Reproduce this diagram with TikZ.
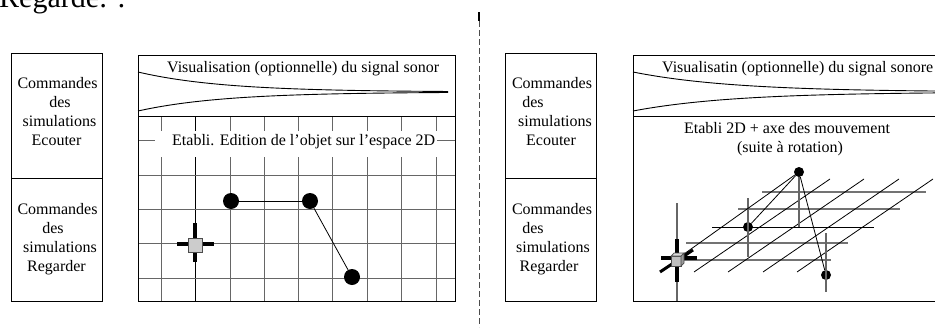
\documentclass[tikz,border=0pt]{standalone}
\usepackage{fontspec}
\setmainfont{Liberation Serif}
\begin{document}
\begin{tikzpicture}[x=1pt,y=-1pt,
  txt/.style={anchor=base, inner sep=0pt, font=\fontsize{16}{19}\selectfont},
  frame/.style={draw=black, line width=1pt},
  gridline/.style={draw=black!60, line width=1pt},
  gridblack/.style={draw=black, line width=0.9pt},
  hgray/.style={draw=black!55, line width=1.4pt},
  thin/.style={draw=black, line width=0.8pt},
  bigdot/.style={circle, fill=black, inner sep=0pt, minimum size=16pt},
  smalldot/.style={circle, fill=black, inner sep=0pt, minimum size=10pt},
  arm/.style={draw=black, line width=4pt},
  divider/.style={draw=black!70, line width=1pt, dash pattern=on 6pt off 3pt}]
\useasboundingbox (0,0) rectangle (935,327);
\clip (0,0) rectangle (935,327);

% title cut at top
\node[anchor=base west, inner sep=0pt, font=\fontsize{30}{34}\selectfont] (title) at (-1,7) {Regarde: :};

% divider
\coordinate (dvtop) at (479,12);
\coordinate (dvmid) at (479,21);
\coordinate (dvbot) at (479,327);
\draw[line width=1.6pt] (dvtop) -- (dvmid);
\draw[divider] (dvmid) -- (dvbot);

% ===== LEFT HALF =====
\draw[frame] (11,53) rectangle (102,301);
\draw[frame] (11,178) -- (102,178);
\node[txt] (la1) at (57.5,88) {Commandes};
\node[txt] (la2) at (60,107) {des};
\node[txt] (la3) at (59.5,126) {simulations};
\node[txt] (la4) at (56.5,145) {Ecouter};
\node[txt] (lb1) at (57.5,214) {Commandes};
\node[txt] (lb2) at (53,233) {des};
\node[txt] (lb3) at (60,252) {simulations};
\node[txt] (lb4) at (56.5,271) {Regarder};

% grid
\foreach \gx in {161,230,264,298,332,367,401,436}
  \draw[gridline] (\gx,116) -- (\gx,301);
\draw[gridblack] (195,116) -- (195,301);
\foreach \gy in {140,175,209,243,278}
  \draw[gridline] (138,\gy) -- (455,\gy);
\fill[white] (155,131) rectangle (437,157);
\node[txt, anchor=base west] (etabli1) at (172,145) {Etabli. Edition de l’objet sur l’espace 2D};

% signal
\draw[line width=0.9pt] plot[domain=0:310, samples=80] ({138+\x},{92-20*exp(-\x/85)});
\draw[line width=0.9pt] plot[domain=0:310, samples=80] ({138+\x},{92+19*exp(-\x/85)});
\node[txt, anchor=base west] (vis1) at (167,72) {Visualisation (optionnelle) du signal sonor};

\draw[frame] (138,55) rectangle (455,301);
\draw[frame] (138,116) -- (455,116);

% points
\node[bigdot] (p1) at (231,201) {};
\node[bigdot] (p2) at (310,201) {};
\node[bigdot] (p3) at (352,277) {};
\draw[thin] (p1) -- (p2);
\draw[thin] (p2) -- (p3);

% cursor
\draw[arm] (177,244) -- (214,244);
\draw[arm] (195,223) -- (195,262);
\node[draw=black!70, fill=black!20, line width=0.8pt, minimum size=14pt, inner sep=0pt] (cur1) at (195,245) {};

% ===== RIGHT HALF =====
\draw[frame] (505,53) rectangle (596,301);
\draw[frame] (505,178) -- (596,178);
\node[txt] (ra1) at (552,88) {Commandes};
\node[txt] (ra2) at (533,107) {des};
\node[txt] (ra3) at (555,126) {simulations};
\node[txt] (ra4) at (551,145) {Ecouter};
\node[txt] (rb1) at (552,214) {Commandes};
\node[txt] (rb2) at (533,233) {des};
\node[txt] (rb3) at (553,252) {simulations};
\node[txt] (rb4) at (549,271) {Regarder};

\draw[line width=0.9pt] plot[domain=0:305, samples=80] ({633+\x},{92-20*exp(-\x/100)});
\draw[line width=0.9pt] plot[domain=0:305, samples=80] ({633+\x},{92+19*exp(-\x/100)});
\node[txt, anchor=base west] (vis2) at (662,72) {Visualisatin (optionnelle) du signal sonore};
\draw[frame] (633,55) -- (940,55);
\draw[frame] (633,55) -- (633,301) -- (940,301);
\draw[frame] (633,116) -- (940,116);
\node[txt] (etabli2) at (787,133) {Etabli 2D + axe des mouvement};
\node[txt] (etabli3) at (790,152) {(suite à rotation)};

% skewed grid
\draw[hgray] (762,192) -- (926,192);
\draw[hgray] (738,209) -- (900,209);
\draw[gridblack] (712,227) -- (874,227);
\draw[hgray] (686,243) -- (848,243);
\draw[hgray] (682,260) -- (831,260);
\foreach \bx in {694,728,763,797}
  \draw[thin] (\bx,272) -- ({\bx+136},179);

\node[smalldot] (q1) at (799,172) {};
\node[smalldot] (q2) at (748,227) {};
\node[smalldot] (q3) at (826,275) {};
\coordinate (c2) at (677,259);
\coordinate (v0a) at (677,203);
\coordinate (v0b) at (677,301);
\coordinate (v2a) at (748,198);
\coordinate (v2b) at (748,257);
\coordinate (v1b) at (799,227);
\coordinate (v3a) at (826,233);
\coordinate (v3b) at (826,292);
\draw[gridline, line width=1.2pt] (v0a) -- (v0b);
\draw[gridline, line width=1.2pt] (v2a) -- (v2b);
\draw[gridline, line width=1.2pt] (q1) -- (v1b);
\draw[gridline, line width=1.2pt] (v3a) -- (v3b);
\draw[thin] (c2) -- (q1);
\draw[thin] (q2) -- (q1);
\draw[thin] (q1) -- (q3);

% 3D cursor
\draw[arm] (661,258) -- (697,258);
\draw[arm] (677,239) -- (677,282);
\draw[draw=black, line width=3pt] (660,272) -- (693,250);
\filldraw[fill=black!25, draw=black!70, line width=0.7pt] (671,256) rectangle (681,266);
\filldraw[fill=black!15, draw=black!70, line width=0.7pt] (671,256) -- (674,253) -- (684,253) -- (681,256) -- cycle;
\filldraw[fill=black!40, draw=black!70, line width=0.7pt] (681,256) -- (684,253) -- (684,263) -- (681,266) -- cycle;
\end{tikzpicture}
\end{document}
